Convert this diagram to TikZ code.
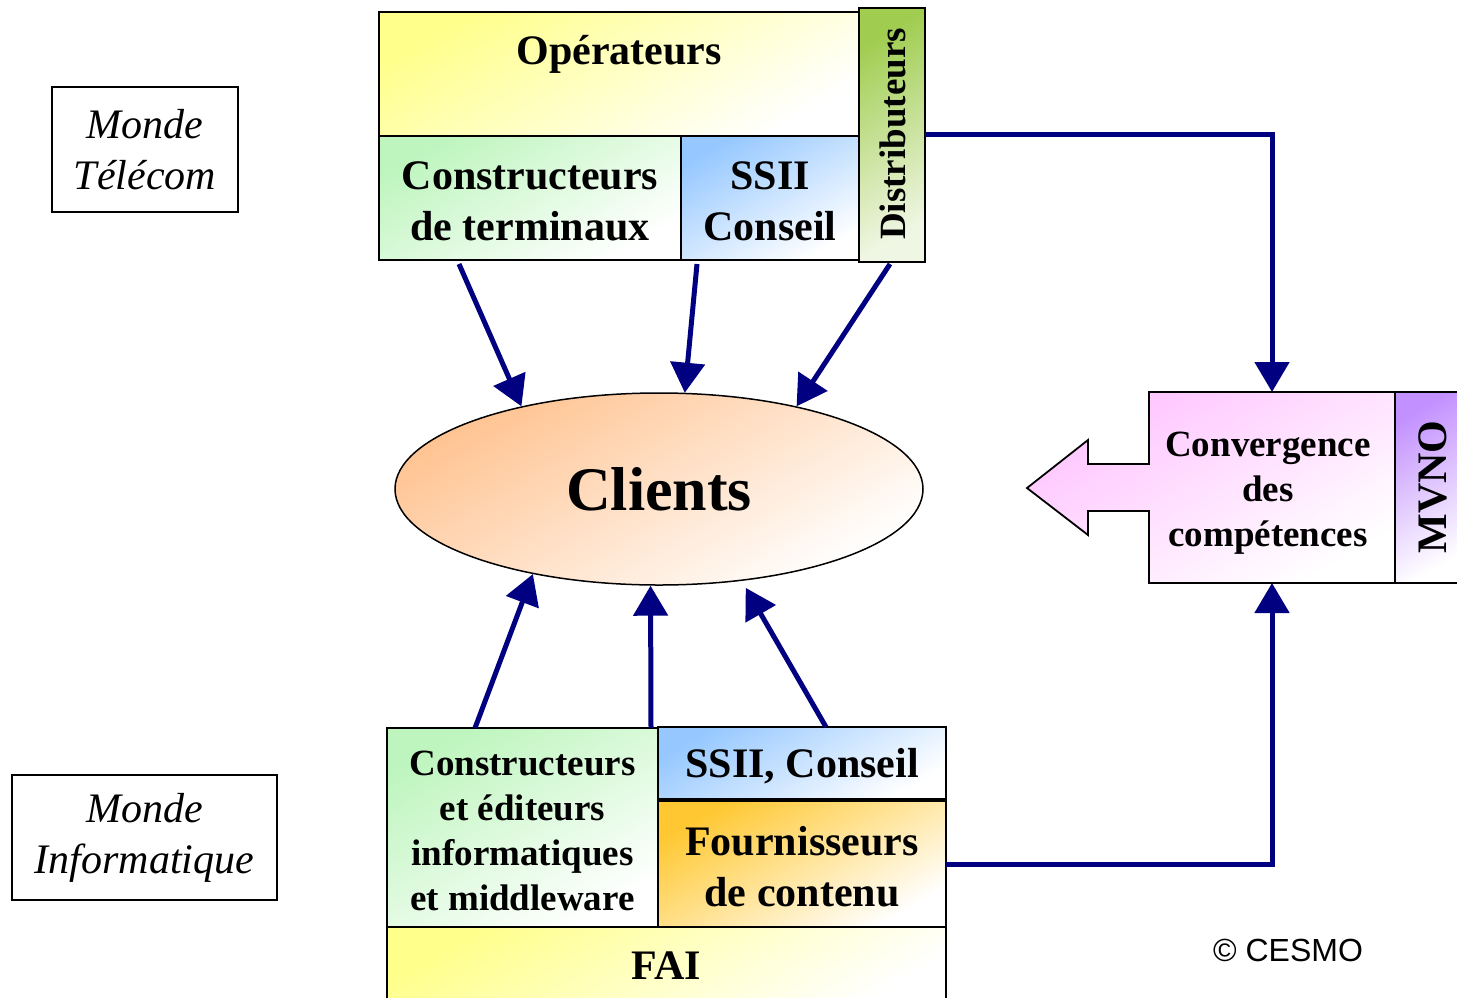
\documentclass[tikz,border=0pt]{standalone}
\usepackage{fontspec}
\setmainfont{Liberation Serif}
\newfontfamily\arialfont{Liberation Sans}
\usetikzlibrary{arrows.meta,shapes.geometric}
\definecolor{navy}{RGB}{0,0,128}
\definecolor{opyellow}{RGB}{255,255,140}
\definecolor{ctgreen}{RGB}{190,245,190}
\definecolor{ssiiblue}{RGB}{150,200,255}
\definecolor{distgreen}{RGB}{160,205,80}
\definecolor{distwhite}{RGB}{240,246,228}
\definecolor{peach}{RGB}{255,195,145}
\definecolor{pinkc}{RGB}{255,195,255}
\definecolor{purplec}{RGB}{195,145,255}
\definecolor{goldc}{RGB}{255,200,50}
\begin{document}
\begin{tikzpicture}[x=1pt,y=-1pt,
  box/.style={draw=black, line width=1.8pt, inner sep=0pt, outer sep=0pt, align=center,
    font=\bfseries\fontsize{42}{51}\selectfont},
  smallbox/.style={box, font=\bfseries\fontsize{37}{45}\selectfont},
  grad/.style={top color=#1, bottom color=white, shading angle=30},
  flow/.style={draw=navy, line width=5pt, -{Triangle[length=30pt,width=34pt]}},
  world/.style={draw=black, line width=1.5pt, inner sep=0pt, align=center,
    font=\itshape\fontsize{42}{51}\selectfont}]
\useasboundingbox (0,0) rectangle (1457,997);

% worlds
\node[world, minimum width=186, minimum height=125] (tel) at (145,149.5) {Monde\\Télécom};
\node[world, minimum width=265, minimum height=125] (inf) at (144.5,837.5) {Monde\\Informatique};

% top group
\node[box, grad=opyellow, minimum width=480, minimum height=124] (op) at (619,74) {};
\node[anchor=base, font=\bfseries\fontsize{42}{51}\selectfont] (optxt) at (619,64) {Opérateurs};
\node[box, grad=ctgreen, minimum width=302, minimum height=124] (cterm) at (530,198) {};
\node[align=center, font=\bfseries\fontsize{42}{51}\selectfont] (ctermtxt) at (530,201) {Constructeurs\\de terminaux};
\node[box, grad=ssiiblue, minimum width=178, minimum height=124] (ssii) at (770,198) {};
\node[align=center, font=\bfseries\fontsize{42}{51}\selectfont] (ssiitxt) at (770,201) {SSII\\Conseil};
\node[smallbox, top color=distgreen, bottom color=distwhite, shading angle=30,
  minimum width=66, minimum height=254] (dist) at (892,135) {};
\node[rotate=90, font=\bfseries\fontsize{37}{45}\selectfont] (disttxt) at (893,134) {Distributeurs};

% clients
\node[ellipse, draw=black, line width=1.5pt, grad=peach, inner sep=0pt,
  minimum width=528, minimum height=192, font=\bfseries\fontsize{62}{70}\selectfont] (cl) at (659,489) {Clients};

% convergence
\node[inner sep=0pt, outer sep=0pt, minimum width=246, minimum height=191] (conv) at (1272,487.5) {};
\path[draw=black, line width=1.8pt, grad=pinkc]
  (conv.south west) -- ++(0,-72) -- ++(-61,0) -- ++(0,24) -- ++(-61,-47) -- ++(61,-48)
  -- ++(0,24) -- ++(61,0) -- (conv.north west) -- (conv.north east) -- (conv.south east) -- cycle;
\node[align=center, font=\bfseries\fontsize{37}{45}\selectfont] (convtxt) at (1268,493) {Convergence\\des\\compétences};
\node[box, grad=purplec, minimum width=70, minimum height=191] (mvno) at (1430,487.5) {};
\node[rotate=90, font=\bfseries\fontsize{42}{51}\selectfont] (mvnotxt) at (1433,487) {MVNO};

% bottom group
\node[smallbox, grad=ctgreen, minimum width=271, minimum height=199] (ced) at (522.5,827.5) {};
\node[align=center, font=\bfseries\fontsize{37}{45}\selectfont] (cedtxt) at (522.5,830.5)
  {Constructeurs\\et éditeurs\\informatiques\\et middleware};
\node[box, grad=ssiiblue, minimum width=288, minimum height=72] (ssii2) at (802,763) {};
\node[font=\bfseries\fontsize{42}{51}\selectfont] (ssii2txt) at (802,766) {SSII, Conseil};
\node[box, grad=goldc, minimum width=288, minimum height=126] (four) at (802,864) {};
\node[align=center, font=\bfseries\fontsize{42}{51}\selectfont] (fourtxt) at (802,867) {Fournisseurs\\de contenu};
\node[box, grad=opyellow, minimum width=559, minimum height=83] (fai) at (666.5,968.5) {};
\node[anchor=base, font=\bfseries\fontsize{42}{51}\selectfont] (faitxt) at (666.5,979) {FAI};

% copyright
\node[font=\arialfont\fontsize{32}{38}\selectfont] (cesmo) at (1288,950) {© CESMO};

% connectors
\draw[flow] ([xshift=80pt,yshift=-4pt]cterm.south west) -- (cl.149);
\draw[flow] ([xshift=16pt,yshift=-4pt]ssii.south west) -- (cl.75);
\draw[flow] ([xshift=31pt,yshift=-2pt]dist.south west) -- (cl.31);
\draw[flow] ([xshift=88pt]ced.north west) -- (cl.214);
\draw[flow] ([xshift=-7pt]ced.north east) -- (cl.265);
\draw[flow, shorten >=8pt] ([xshift=168pt]ssii2.north west) -- (cl.312);
\draw[flow] ([yshift=1pt]dist.east) -| (conv.north);
\draw[flow] (four.east) -| (conv.south);
\end{tikzpicture}
\end{document}
